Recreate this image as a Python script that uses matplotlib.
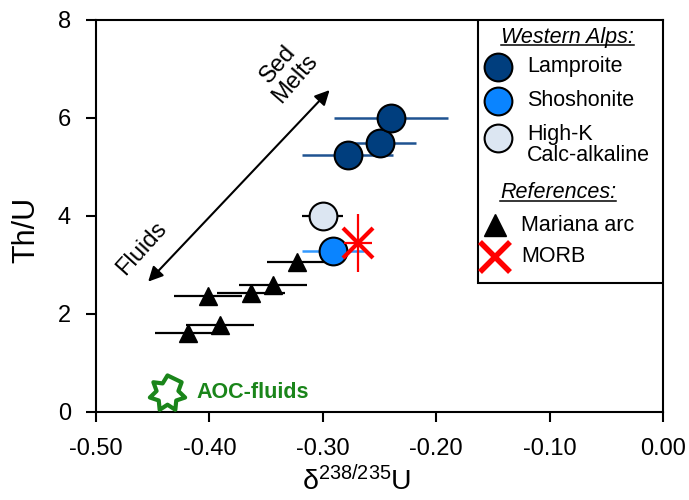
import numpy as np
import matplotlib
matplotlib.use('Agg')
import matplotlib.pyplot as plt
from matplotlib.path import Path
from matplotlib.patches import Rectangle

plt.rcParams['font.family'] = ['Liberation Sans', 'DejaVu Sans']
plt.rcParams['mathtext.fontset'] = 'custom'
plt.rcParams['mathtext.rm'] = 'Liberation Sans'
plt.rcParams['mathtext.it'] = 'Liberation Sans:italic'

# Western Alps samples
lamp_x = [-0.278, -0.250, -0.240]
lamp_y = [5.24, 5.48, 6.00]
lamp_xerr = [0.040, 0.032, 0.050]

sho_x = [-0.291]
sho_y = [3.29]
sho_xerr = [0.027]

hk_x = [-0.300]
hk_y = [4.00]
hk_xerr = [0.018]

# references
mar_x = [-0.323, -0.344, -0.363, -0.401, -0.391, -0.419]
mar_y = [3.07, 2.59, 2.43, 2.37, 1.78, 1.61]
mar_xerr = [0.026, 0.030, 0.030, 0.030, 0.030, 0.029]

morb_x = [-0.269]
morb_y = [3.45]
morb_xerr = [0.012]
morb_yerr = [0.59]

aoc_x = [-0.437]
aoc_y = [0.39]

xticks = [-0.5, -0.4, -0.3, -0.2, -0.1, 0.0]
yticks = [0, 2, 4, 6, 8]

c_lamp = '#003e7e'
c_sho = '#0a84ff'
c_hk = '#dce6f2'
c_green = '#1a851a'

# 7-point star outline for AOC fluids
ang = np.pi / 2 + np.arange(14) * np.pi / 7
rad = np.where(np.arange(14) % 2 == 0, 1.0, 0.62)
star = Path(np.column_stack([rad * np.cos(ang), rad * np.sin(ang)]), closed=True)

fig = plt.figure(figsize=(6.89, 5.0), dpi=100)
ax = fig.add_axes([96 / 689, 88 / 500, 567 / 689, 392 / 500])

# error bars
ax.errorbar(mar_x, mar_y, xerr=mar_xerr, fmt='none', ecolor='black', elinewidth=1.6, zorder=2)
ax.errorbar(lamp_x, lamp_y, xerr=lamp_xerr, fmt='none', ecolor='#1f5391', elinewidth=1.8, zorder=2)
ax.errorbar(sho_x, sho_y, xerr=sho_xerr, fmt='none', ecolor='#3399ff', elinewidth=1.8, zorder=2)
ax.errorbar(hk_x, hk_y, xerr=hk_xerr, fmt='none', ecolor='black', elinewidth=1.6, zorder=2)

# markers
ax.plot(mar_x, mar_y, '^', ms=12.5, color='black', zorder=3)
ax.plot(lamp_x, lamp_y, 'o', ms=20, mfc=c_lamp, mec='black', mew=1.5, zorder=4)
ax.plot(sho_x, sho_y, 'o', ms=20, mfc=c_sho, mec='black', mew=1.5, zorder=4)
ax.plot(hk_x, hk_y, 'o', ms=20, mfc=c_hk, mec='black', mew=1.5, zorder=4)
ax.errorbar(morb_x, morb_y, xerr=morb_xerr, yerr=morb_yerr, fmt='x', ms=21, mew=3,
            color='red', ecolor='red', elinewidth=1.6, zorder=5)

ax.plot(aoc_x, aoc_y, marker=star, ms=26, mfc='white', mec=c_green, mew=3,
        ls='none', clip_on=False, zorder=5)
ax.text(-0.411, 0.39, 'AOC-fluids', color=c_green, fontsize=15.5, fontweight='bold',
        ha='left', va='center')

# trend arrow
ax.annotate('', xy=(-0.294, 6.57), xytext=(-0.454, 2.66),
            arrowprops=dict(arrowstyle='<|-|>', color='black', lw=1.5, mutation_scale=22,
                            shrinkA=0, shrinkB=0))
ax.text(-0.332, 6.95, 'Sed\nMelts', rotation=49, fontsize=17, ha='center', va='center',
        multialignment='center', linespacing=1.0)
ax.text(-0.460, 3.33, 'Fluids', rotation=48, fontsize=17, ha='center', va='center')

ax.set_xlim(-0.5, 0.0)
ax.set_ylim(0, 8)
ax.set_xticks(xticks)
ax.set_xticklabels(['%.2f' % v for v in xticks])
ax.set_yticks(yticks)
ax.tick_params(direction='out', length=7, width=1.5, labelsize=17)
ax.tick_params(axis='x', pad=12)
ax.tick_params(axis='y', pad=11)
for sp in ax.spines.values():
    sp.set_linewidth(1.5)

ax.set_ylabel('Th/U', fontsize=22, va='center')
ax.yaxis.set_label_coords(-0.122, 0.464)
ax.set_xlabel(r'δ$^{\mathregular{238/235}}$U', fontsize=20.5, va='baseline')
ax.xaxis.set_label_coords(0.46, -0.198)

# legend box
ax.add_patch(Rectangle((0.674, 0.330), 0.326, 0.670, transform=ax.transAxes,
                       facecolor='white', edgecolor='black', lw=1.5, zorder=6))
mx, tx = 0.709, 0.760
leg_kw = dict(transform=ax.transAxes, clip_on=False, zorder=7, ls='none')
txt_kw = dict(transform=ax.transAxes, fontsize=15.5, ha='left', va='center', zorder=7)

h1 = ax.text(0.831, 0.942, 'Western Alps:', fontstyle='italic', ha='center', va='baseline',
             fontsize=15.5, transform=ax.transAxes, zorder=7)
ax.plot([mx], [0.881], 'o', ms=20, mfc=c_lamp, mec='black', mew=1.5, **leg_kw)
ax.text(tx, 0.881, 'Lamproite', **txt_kw)
ax.plot([mx], [0.794], 'o', ms=20, mfc=c_sho, mec='black', mew=1.5, **leg_kw)
ax.text(tx, 0.794, 'Shoshonite', **txt_kw)
ax.plot([mx], [0.699], 'o', ms=20, mfc=c_hk, mec='black', mew=1.5, **leg_kw)
ax.text(tx, 0.707, 'High-K', **txt_kw)
ax.text(tx, 0.654, 'Calc-alkaline', **txt_kw)

h2 = ax.text(0.815, 0.545, 'References:', fontstyle='italic', ha='center', va='baseline',
             fontsize=15.5, transform=ax.transAxes, zorder=7)
ax.plot([mx - 0.005], [0.477], '^', ms=16, color='black', **leg_kw)
ax.text(tx - 0.01, 0.477, 'Mariana arc', **txt_kw)
ax.plot([mx - 0.005], [0.396], 'x', ms=22, mew=4, color='red', **leg_kw)
ax.text(tx - 0.01, 0.396, 'MORB', **txt_kw)

# underline the legend headers
fig.canvas.draw()
inv = ax.transAxes.inverted()
for h, yy in [(h1, 0.937), (h2, 0.539)]:
    bb = h.get_window_extent()
    x0 = inv.transform((bb.x0, bb.y0))[0]
    x1 = inv.transform((bb.x1, bb.y0))[0]
    ax.plot([x0, x1], [yy, yy], color='black', lw=1.1, transform=ax.transAxes,
            clip_on=False, zorder=7)

fig.savefig('out.png', dpi=100)
